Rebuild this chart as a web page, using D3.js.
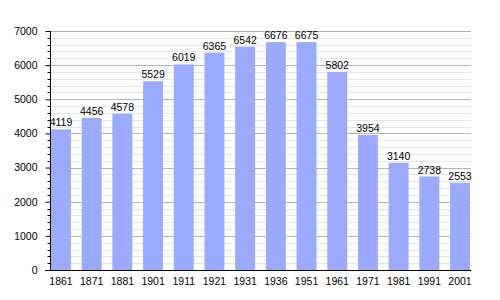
<!DOCTYPE html>
<html><head><meta charset="utf-8">
<script src="https://cdn.jsdelivr.net/npm/d3@7"></script>
<style>html,body{margin:0;padding:0;background:#fff;}svg{display:block;font-family:"Liberation Sans",Arial,sans-serif;}</style>
</head><body>
<svg id="c" width="500" height="300"></svg>
<script>
const years = ["1861","1871","1881","1901","1911","1921","1931","1936","1951","1961","1971","1981","1991","2001"];
const population = [4119,4456,4578,5529,6019,6365,6542,6676,6675,5802,3954,3140,2738,2553];
const yTicks = [0,1000,2000,3000,4000,5000,6000,7000];

(function(){
const svg = d3.select("#c");
const mLeft = 50, mRight = 471, mTop = 31, mBottom = 270;
const x = d3.scaleBand().domain(years).range([mLeft + 1, mRight - 1]).paddingInner(0.35).paddingOuter(0);
const y = d3.scaleLinear().domain([0, 7000]).range([mBottom, mTop]);

const minor = d3.range(0, 7001, 200).filter(v => v % 1000 !== 0);
svg.append("g").selectAll("line").data(minor).join("line")
  .attr("x1", mLeft).attr("x2", mRight)
  .attr("y1", d => Math.round(y(d)) + 0.5).attr("y2", d => Math.round(y(d)) + 0.5)
  .attr("stroke", "#e6e6e6").attr("stroke-width", 1);
svg.append("g").selectAll("line").data(yTicks.filter(v => v > 0)).join("line")
  .attr("x1", mLeft).attr("x2", mRight)
  .attr("y1", d => Math.round(y(d)) + 0.5).attr("y2", d => Math.round(y(d)) + 0.5)
  .attr("stroke", "#b3b3b3").attr("stroke-width", 1);

svg.append("g").selectAll("rect").data(population).join("rect")
  .attr("x", (d, i) => x(years[i]))
  .attr("width", x.bandwidth())
  .attr("y", d => y(d))
  .attr("height", d => mBottom - y(d))
  .attr("fill", "#99aaff");

svg.append("g").selectAll("text").data(population).join("text")
  .attr("x", (d, i) => x(years[i]) + x.bandwidth() / 2)
  .attr("y", d => y(d) - 3)
  .attr("text-anchor", "middle")
  .attr("font-size", 10.5)
  .attr("fill", "#000")
  .text(d => d);

const yAxis = d3.axisLeft(y).tickValues(yTicks).tickSize(5).tickPadding(8).tickFormat(d3.format("d"));
const gy = svg.append("g").attr("transform", `translate(${mLeft + 0.5},0)`).call(yAxis);
gy.select(".domain").attr("stroke", "#000").attr("d", `M0,${mTop}V${mBottom}`);
gy.selectAll("text").attr("font-size", 10.5).attr("font-family", "Liberation Sans, Arial, sans-serif").attr("fill", "#000");
gy.selectAll("line").attr("stroke", "#000");
gy.append("g").selectAll("line").data(minor).join("line")
  .attr("x1", -3).attr("x2", 0)
  .attr("y1", d => Math.round(y(d)) + 0.5).attr("y2", d => Math.round(y(d)) + 0.5)
  .attr("stroke", "#000");

const xAxis = d3.axisBottom(x).tickSize(0).tickPadding(7);
const gx = svg.append("g").attr("transform", `translate(0,${mBottom + 0.5})`).call(xAxis);
gx.select(".domain").attr("stroke", "#000").attr("d", `M${mLeft - 5},0H${mRight}`);
gx.selectAll("text").attr("font-size", 10.5).attr("font-family", "Liberation Sans, Arial, sans-serif").attr("fill", "#000");
})();
</script>
</body></html>
